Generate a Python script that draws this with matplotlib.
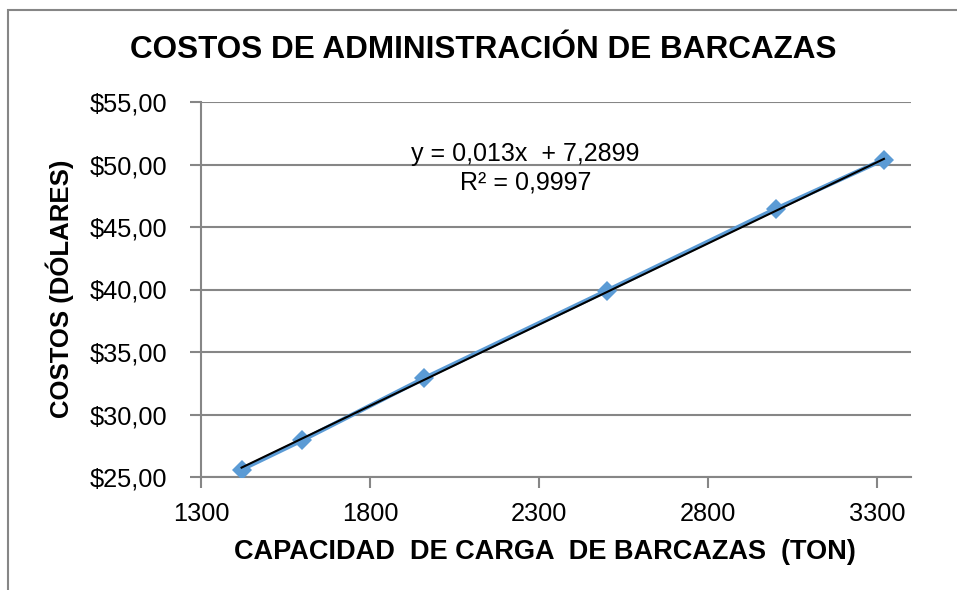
import matplotlib
matplotlib.use("Agg")
import matplotlib.pyplot as plt
from matplotlib.patches import Rectangle
from matplotlib.ticker import FuncFormatter
import numpy as np

plt.rcParams['font.family'] = ['Liberation Sans', 'DejaVu Sans']

# Data
capacity = [1420, 1600, 1960, 2500, 3000, 3320]
cost = [25.6, 27.95, 32.9, 39.9, 46.45, 50.4]
trend_slope = 0.013
trend_intercept = 7.2899
x_ticks = [1300, 1800, 2300, 2800, 3300]
y_ticks = [25, 30, 35, 40, 45, 50, 55]
title = "COSTOS DE ADMINISTRACIÓN DE BARCAZAS"
xlabel = "CAPACIDAD  DE CARGA  DE BARCAZAS  (TON)"
ylabel = "COSTOS (DÓLARES)"
eq_text = "y = 0,013x  + 7,2899\nR² = 0,9997"

W, H = 957, 590
fig = plt.figure(figsize=(W / 100, H / 100), dpi=100)
ax = fig.add_axes([201 / W, 1 - 477 / H, (911 - 201) / W, (477 - 102) / H])

grid_c = '#868686'
ax.set_xlim(1300, 3400)
ax.set_ylim(25, 55)
ax.set_xticks(x_ticks)
ax.set_yticks(y_ticks)
ax.yaxis.set_major_formatter(FuncFormatter(lambda v, p: ("$%.2f" % v).replace('.', ',')))
ax.grid(axis='y', color=grid_c, linewidth=1.5)
ax.set_axisbelow(True)
for s in ['top', 'right']:
    ax.spines[s].set_visible(False)
for s in ['left', 'bottom']:
    ax.spines[s].set_color(grid_c)
    ax.spines[s].set_linewidth(1.5)
ax.tick_params(axis='both', colors=grid_c, labelcolor='black', labelsize=18.3,
               width=1.5, length=8, direction='out')
ax.tick_params(axis='y', pad=16)
ax.tick_params(axis='x', pad=10)

ax.plot(capacity, cost, color='#5B9BD5', linewidth=3.2, marker='D', markersize=10,
        markeredgewidth=0, zorder=3)
xs = np.array([min(capacity), max(capacity)])
ax.plot(xs, trend_slope * xs + trend_intercept, color='black', linewidth=1.5, zorder=4)

ax.text(2260, 49.7, eq_text, ha='center', va='center', fontsize=18,
        linespacing=1.25, zorder=5)

fig.text(483 / W, 1 - 50 / H, title, ha='center', va='center', fontsize=22.7,
         fontweight='bold')
fig.text(545 / W, 1 - 552 / H, xlabel, ha='center', va='center', fontsize=19.5,
         fontweight='bold')
fig.text(60 / W, 1 - 289 / H, ylabel, ha='center', va='center', fontsize=18.5,
         fontweight='bold', rotation=90)

fig.patches.append(Rectangle((8 / W, -0.1), 1.2, 1.1 - 10 / H, transform=fig.transFigure,
                             fill=False, edgecolor=grid_c, linewidth=1.5))

fig.savefig('out.png', dpi=100)
